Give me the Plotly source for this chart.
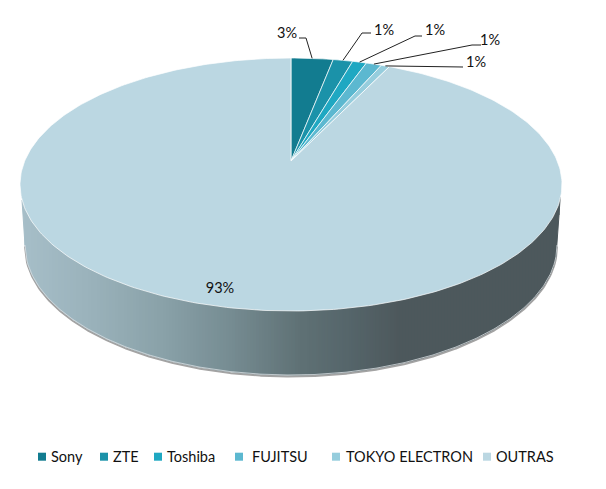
import math
import plotly.graph_objects as go

# ---- data ----
categories = ["Sony", "ZTE", "Toshiba", "FUJITSU", "TOKYO ELECTRON", "OUTRAS"]
values = [3.0, 1.4, 1.0, 1.1, 0.6, 92.9]
colors = ["#127C90", "#1B92A9", "#1FA8C2", "#5CB8D0", "#96CDDD", "#BBD7E2"]

# ---- layout constants (pixel space of the hidden axes) ----
W, H = 606, 489
APEX_X, APEX_Y = 291.0, 161.0
TOP_R, BOTTOM_R = 103.0, 150.0
K = (BOTTOM_R - TOP_R) / (BOTTOM_R + TOP_R)
B = TOP_R * (1 + K)
ELL_CY, ELL_RY, ELL_RX = 184.5, 126.5, 271.0
A = ELL_RX * math.sqrt(1 - K * K)
LOW_CY, LOW_RY, LOW_RX = 245.0, 130.0, 266.0
FONT = "Lato"
TEXT = "#111111"


def project(frac):
    t = 2 * math.pi * frac
    u, v = math.sin(t), math.cos(t)
    d = 1 + K * v
    return APEX_X + A * u / d, APEX_Y - B * v / d


def hex_rgb(c):
    return tuple(int(c[i:i + 2], 16) for i in (1, 3, 5))


WALL_STOPS = [(22, "#A6BEC8"), (90, "#9AB2BB"), (160, "#8AA2A9"), (230, "#768C92"),
              (300, "#5F7175"), (350, "#55656A"), (400, "#4D585C"), (561, "#4D585C")]


def wall_color(x):
    for (x0, c0), (x1, c1) in zip(WALL_STOPS, WALL_STOPS[1:]):
        if x <= x1:
            f = (x - x0) / (x1 - x0)
            a, b = hex_rgb(c0), hex_rgb(c1)
            return "rgb(%d,%d,%d)" % tuple(round(a[i] + (b[i] - a[i]) * f) for i in range(3))
    return WALL_STOPS[-1][1]


def top_edge(x):
    r = min(1.0, abs(x - APEX_X) / ELL_RX)
    return ELL_CY + ELL_RY * math.sqrt(1 - r * r)


def low_edge(x):
    dx = abs(x - APEX_X)
    if dx >= LOW_RX:
        f = min(1.0, (dx - LOW_RX) / (269.0 - LOW_RX))
        return LOW_CY + (200 - LOW_CY) * f
    r = dx / LOW_RX
    return LOW_CY + LOW_RY * math.sqrt(1 - r * r)


fig = go.Figure()


def poly(xs, ys, fill, line=None, lw=0):
    fig.add_trace(go.Scatter(x=xs, y=ys, mode="lines", fill="toself", fillcolor=fill,
                             line=dict(color=line or fill, width=lw), hoverinfo="skip",
                             showlegend=False))


def path(xs, ys, color, width):
    fig.add_trace(go.Scatter(x=xs, y=ys, mode="lines", line=dict(color=color, width=width),
                             hoverinfo="skip", showlegend=False))


# shadow below the wall
sx = [22 + i for i in range(3, 536)]
path(sx, [low_edge(x) + 1.5 for x in sx], "#A3A3A3", 2)

# side wall, as a horizontal gradient of thin strips
for x in range(22, 560, 3):
    x2 = min(x + 3, 560)
    poly([x, x2, x2, x], [top_edge(x) - 3, top_edge(x2) - 3, low_edge(x2), low_edge(x)],
         wall_color(x + 1.5), lw=1)

# light rim along the wall's lower edge
path(sx, [low_edge(x) for x in sx], "#D5DCDF", 0.8)

# the disc: one wedge per value
total = sum(values)
start = 0.0
mids = []
for name, val, col in zip(categories, values, colors):
    end = start + val / total
    n = max(3, int((end - start) * 400))
    pts = [project(start + (end - start) * i / n) for i in range(n + 1)]
    poly([APEX_X] + [p[0] for p in pts] + [APEX_X],
         [APEX_Y] + [p[1] for p in pts] + [APEX_Y], col, line="#FFFFFF", lw=0.7)
    mids.append(start + (end - start) / 2)
    start = end

# data labels and leader lines
label_pos = [(287, 34), (384, 31), (435, 31), (490, 41), (476, 63), (220, 289)]
elbows = [[(306, 38), (299, 38)], [(362, 33), (371, 33)], [(415, 36), (422, 36)],
          [(472, 45), (481, 45)], [(463, 67)], []]
for m, el in zip(mids, elbows):
    if el:
        p = project(m)
        path([p[0]] + [e[0] for e in el], [p[1]] + [e[1] for e in el], "#222222", 1)

fig.add_trace(go.Scatter(
    x=[p[0] for p in label_pos], y=[p[1] for p in label_pos], mode="text",
    text=["%d%%" % round(v) for v in values], textposition="middle center",
    textfont=dict(family=FONT, size=14.5, color=TEXT), hoverinfo="skip", showlegend=False))

# legend row
swatch_x = [42, 104, 158, 239, 336, 487]
label_x = [48.5, 110.5, 164.5, 249.5, 343.5, 493.5]
for name, col, sw, lx in zip(categories, colors, swatch_x, label_x):
    fig.add_trace(go.Scatter(x=[sw], y=[456.7], mode="markers",
                             marker=dict(symbol="square", size=8, color=col),
                             hoverinfo="skip", showlegend=False))
    fig.add_annotation(x=lx, y=456, text=name, showarrow=False, xanchor="left",
                       yanchor="middle", font=dict(family=FONT, size=14.5, color=TEXT))

fig.update_layout(
    width=W, height=H, margin=dict(l=0, r=0, t=0, b=0),
    paper_bgcolor="#FFFFFF", plot_bgcolor="#FFFFFF", showlegend=False,
    xaxis=dict(range=[0, W], visible=False, fixedrange=True),
    yaxis=dict(range=[H, 0], visible=False, fixedrange=True),
)
fig.write_html("out.html", post_script="document.body.style.margin='0';",
               config={"displayModeBar": False})
